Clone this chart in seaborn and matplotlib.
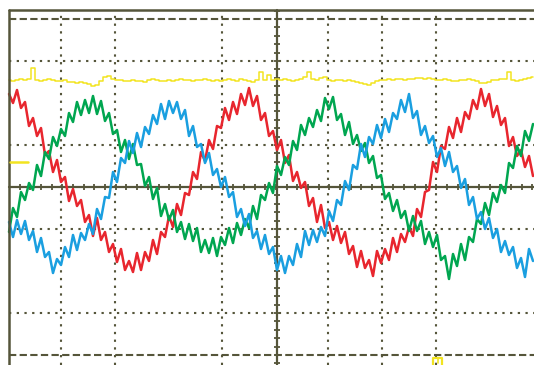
import numpy as np
import pandas as pd
import matplotlib
matplotlib.use("Agg")
import matplotlib.pyplot as plt
import seaborn as sns

# ---- data (screen units: 1 px per sample step unit, amplitude in px from centre line) ----
t_start, t_step, n_samples = 9, 4, 132
red = [93, 84, 97, 79, 85, 61, 69, 51, 59, 32, 36, 15, 27, 5, 10, -14, -2, -19, -13, -35,
       -28, -49, -31, -53, -45, -65, -57, -75, -62, -83, -74, -85, -66, -83, -65, -74, -53, -67, -45, -50,
       -29, -40, -17, -28, -6, -8, 15, 8, 35, 26, 47, 38, 61, 59, 79, 67, 85, 73, 93, 82,
       99, 81, 91, 67, 74, 51, 56, 37, 47, 24, 32, 6, 15, -1, 5, -19, -11, -35, -18, -41,
       -35, -53, -39, -56, -45, -67, -59, -80, -64, -81, -73, -89, -64, -76, -62, -73, -51, -65, -47, -55,
       -40, -49, -22, -30, -5, -3, 25, 15, 41, 38, 60, 49, 69, 55, 75, 68, 87, 78, 98, 81,
       93, 70, 81, 62, 69, 41, 50, 31, 37, 20, 31, 11]
green = [-45, -21, -30, -5, -13, 4, -3, 22, 11, 35, 28, 50, 41, 58, 51, 74, 65, 85, 72, 87,
         74, 91, 73, 86, 66, 74, 53, 57, 35, 47, 28, 43, 22, 23, 1, 10, -12, -1, -29, -17,
         -33, -23, -45, -35, -52, -37, -54, -41, -65, -53, -66, -51, -69, -50, -58, -41, -56, -36, -48, -32,
         -41, -19, -32, -8, -13, 4, -6, 21, 12, 30, 22, 46, 37, 62, 52, 69, 60, 77, 66, 89,
         78, 90, 67, 73, 52, 65, 43, 52, 36, 44, 24, 31, 9, 12, -12, -6, -24, -13, -31, -24,
         -44, -29, -44, -34, -57, -45, -60, -48, -73, -69, -92, -67, -79, -57, -73, -50, -55, -32, -37, -16,
         -28, -6, -15, 2, -6, 24, 19, 41, 31, 56, 46, 63]
blue = [-35, -50, -33, -47, -34, -53, -44, -65, -51, -70, -65, -86, -72, -78, -60, -70, -48, -63, -46, -53,
        -37, -47, -22, -32, -10, -11, 15, 5, 29, 24, 46, 34, 54, 40, 60, 53, 72, 63, 83, 68,
        86, 74, 85, 68, 77, 51, 61, 40, 43, 24, 34, 12, 18, 0, 10, -10, -5, -30, -22, -39,
        -27, -51, -44, -62, -48, -67, -60, -83, -69, -86, -69, -78, -57, -70, -44, -58, -43, -55, -40, -49,
        -24, -34, -13, -18, 6, -3, 22, 18, 43, 30, 50, 43, 62, 49, 68, 55, 74, 68, 87, 75,
        93, 69, 76, 52, 61, 44, 51, 30, 39, 21, 35, 15, 21, -1, 8, -18, -10, -32, -25, -42,
        -31, -51, -42, -65, -54, -68, -60, -81, -71, -90, -62, -74]
yellow = [107, 106, 107, 108, 107, 108, 119, 107, 106, 107,
          108, 107, 106, 106, 107, 105, 105, 104, 105, 104,
          103, 101, 102, 106, 110, 111, 108, 107, 107, 106,
          106, 107, 106, 106, 105, 107, 108, 107, 106, 106,
          107, 106, 107, 108, 107, 107, 106, 107, 107, 108,
          107, 106, 107, 106, 107, 108, 107, 106, 108, 107,
          106, 105, 107, 115, 107, 112, 107, 108, 107, 108,
          107, 106, 107, 108, 110, 115, 108, 107, 109, 110,
          107, 106, 107, 107, 106, 107, 106, 105, 104, 103,
          102, 104, 106, 107, 107, 108, 107, 108, 108, 107,
          108, 108, 109, 109, 108, 109, 108, 107, 107, 108,
          107, 106, 106, 107, 107, 108, 107, 106, 104, 104,
          105, 107, 107, 108, 108, 115, 107, 106, 107, 108,
          109, 110]

t = t_start + t_step * np.arange(n_samples)

# graticule layout (screen units)
grid_cols = [61, 115, 222, 328, 382, 436]
grid_rows = [126, 42, -42, -126]
center_x = 277
frame_x, frame_top = 9, 177
border_rows = [168, -168]

C_RED, C_GREEN, C_BLUE, C_YEL = "#e8262e", "#00a650", "#1a9fe0", "#f2e420"
C_GRID = "#55553a"

sns.set_style("white")
fig = plt.figure(figsize=(5.34, 3.65), dpi=100)
ax = fig.add_axes([0, 0, 1, 1])
fig.patch.set_facecolor("white")

# graticule
for yv in grid_rows:
    ax.plot([frame_x, 534], [yv, yv], color=C_GRID, lw=1.5, ls=(0, (1.1, 2.6)), zorder=1)
for xv in grid_cols:
    ax.plot([xv, xv], [-178, frame_top], color=C_GRID, lw=1.5, ls=(0, (1.1, 2.6)), zorder=1)
for yv in border_rows:
    ax.plot([frame_x, 534], [yv, yv], color=C_GRID, lw=1.5, ls=(0, (3.5, 1.6)), zorder=1)
ax.plot([frame_x, 534], [0, 0], color=C_GRID, lw=1.6, zorder=1)
ax.plot([center_x, center_x], [-178, frame_top], color=C_GRID, lw=1.6, zorder=1)
ax.plot([frame_x, frame_x], [-178, frame_top], color=C_GRID, lw=1.8, zorder=5)
ax.plot([frame_x, 534], [frame_top, frame_top], color=C_GRID, lw=1.8, zorder=5)
# minor ticks on centre axes
hx = frame_x + 10.68 * np.arange(1, 50)
ax.plot(hx, np.zeros_like(hx), ls="none", marker="|", ms=5, mew=1.3, color=C_GRID, zorder=1)
vy = 8.4 * np.arange(-21, 22)
ax.plot(np.full_like(vy, center_x), vy, ls="none", marker="_", ms=5, mew=1.3, color=C_GRID, zorder=1)

# traces
df = pd.DataFrame({"t": t, "red": red, "green": green, "blue": blue, "yellow": yellow})
sns.lineplot(data=df, x="t", y="yellow", color=C_YEL, lw=1.1, drawstyle="steps-mid", ax=ax, zorder=3)
for col, c in (("red", C_RED), ("green", C_GREEN), ("blue", C_BLUE)):
    sns.lineplot(data=df, x="t", y=col, color=c, lw=1.8, ax=ax, zorder=3)

# channel / trigger markers
ax.plot([10, 28], [25, 25], color=C_YEL, lw=1.8, zorder=6)
ax.plot([433, 433, 442, 442], [-178, -171, -171, -178], color=C_YEL, lw=1.6, zorder=6)
ax.plot([437.5, 437.5], [-171, -176], color=C_YEL, lw=1.2, zorder=6)

ax.set_xlim(0, 534)
ax.set_ylim(187 - 365, 187)
ax.axis("off")
fig.savefig("out.png", dpi=100, facecolor="white")
